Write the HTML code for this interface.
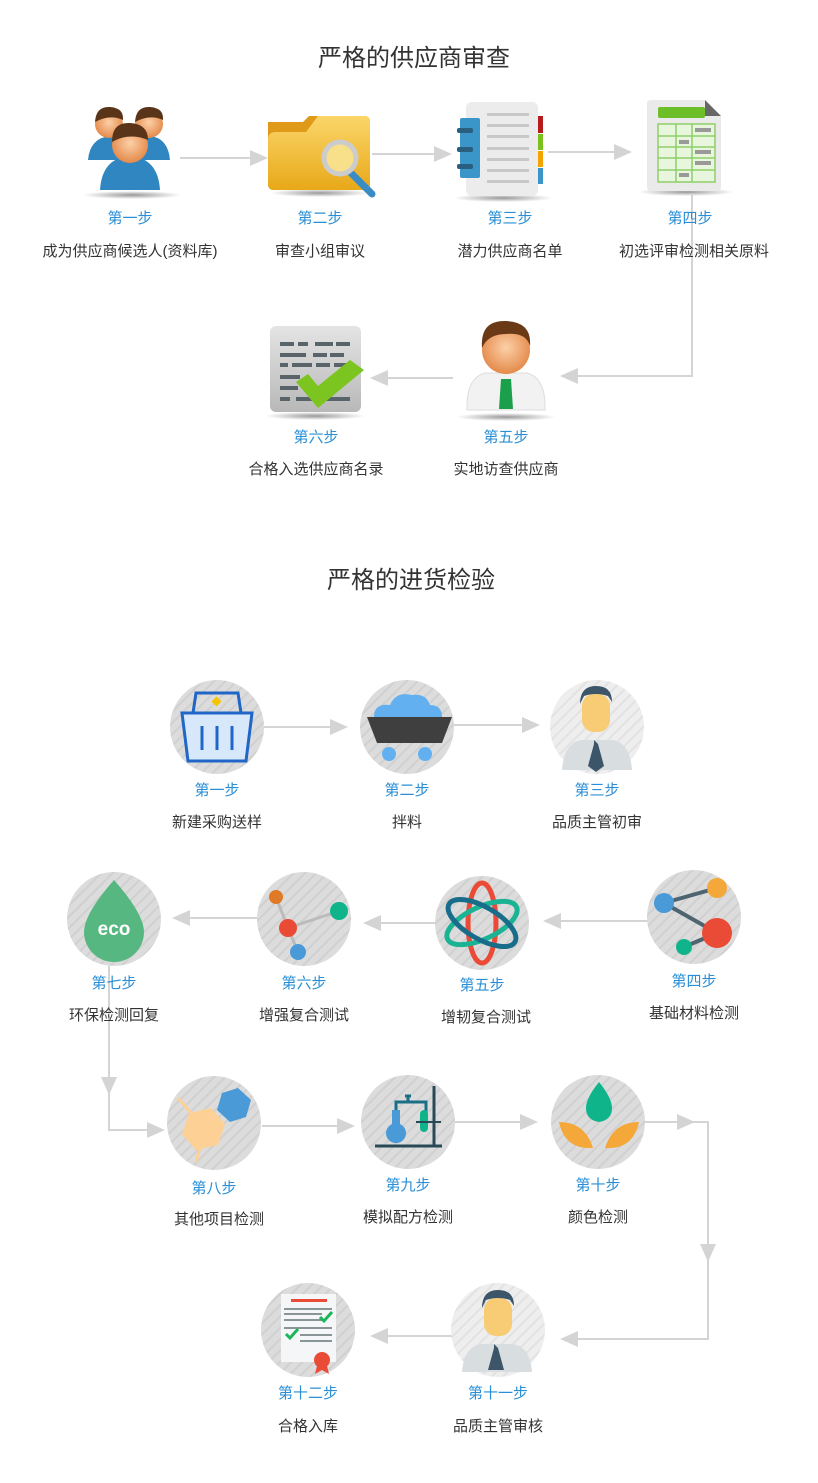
<!DOCTYPE html>
<html><head><meta charset="utf-8"><style>
html,body{margin:0;padding:0;background:#fff;}
svg{display:block;}
text{font-family:"Liberation Sans","Noto Sans CJK SC",sans-serif;text-anchor:middle;}
.t{font-size:24px;fill:#333;}
.s{font-size:15px;fill:#2a8fd6;}
.n{font-size:15px;fill:#333;}
.ln{stroke:#d4d4d4;stroke-width:2;fill:none;}
.ah{fill:#d4d4d4;}
</style></head><body>
<svg width="818" height="1483" viewBox="0 0 818 1483" xmlns="http://www.w3.org/2000/svg">
<defs>
<pattern id="st" width="8" height="8" patternUnits="userSpaceOnUse" patternTransform="rotate(45)">
<rect width="8" height="8" fill="#dcdcdc"/><rect width="2" height="8" fill="#d0d0d0"/></pattern>
<pattern id="st2" width="8" height="8" patternUnits="userSpaceOnUse" patternTransform="rotate(45)">
<rect width="8" height="8" fill="#eeeeee"/><rect width="2" height="8" fill="#e2e2e2"/></pattern>
<radialGradient id="face" cx="50%" cy="45%" r="55%"><stop offset="0" stop-color="#fcd0a8"/><stop offset="1" stop-color="#e48a4a"/></radialGradient>
<linearGradient id="fold" x1="0" y1="0" x2="0" y2="1"><stop offset="0" stop-color="#fbd66a"/><stop offset="1" stop-color="#e8a818"/></linearGradient>
<linearGradient id="doc" x1="0" y1="0" x2="0" y2="1"><stop offset="0" stop-color="#e4e4e4"/><stop offset="1" stop-color="#b8b8b8"/></linearGradient>
<radialGradient id="sh"><stop offset="0" stop-color="#999"/><stop offset="1" stop-color="#999" stop-opacity="0"/></radialGradient>
</defs>

<text class="t" x="414" y="66">严格的供应商审查</text>

<path class="ln" d="M180 158 H256"/><polygon class="ah" points="268,158 250,150 250,166"/>
<path class="ln" d="M372 154 H440"/><polygon class="ah" points="452,154 434,146 434,162"/>
<path class="ln" d="M548 152 H620"/><polygon class="ah" points="632,152 614,144 614,160"/>
<path class="ln" d="M692 195 V376 H572"/><polygon class="ah" points="560,376 578,368 578,384"/>
<path class="ln" d="M453 378 H382"/><polygon class="ah" points="370,378 388,370 388,386"/>

<ellipse cx="132" cy="195" rx="50" ry="4" fill="url(#sh)"/>
<g>
<path d="M88 160 Q90 138 110 136 Q128 138 130 160 Z" fill="#2f86c0"/>
<circle cx="109" cy="124" r="14" fill="url(#face)"/><path d="M95 122 Q96 106 110 107 Q124 108 123 120 Q110 114 95 122Z" fill="#5a3418"/>
<path d="M130 160 Q132 138 150 136 Q168 138 170 160 Z" fill="#2f86c0"/>
<circle cx="149" cy="124" r="14" fill="url(#face)"/><path d="M135 122 Q136 106 150 107 Q164 108 163 120 Q150 114 135 122Z" fill="#5a3418"/>
<path d="M100 190 Q102 158 130 156 Q158 158 160 190 Z" fill="#2f86c0"/>
<circle cx="130" cy="145" r="18" fill="url(#face)"/><path d="M112 142 Q112 122 130 123 Q148 124 148 140 Q130 132 112 142Z" fill="#5a3418"/>
</g>
<ellipse cx="320" cy="193" rx="50" ry="4" fill="url(#sh)"/>
<path d="M268 122 h35 l6 -6 h55 q6 0 6 6 v62 q0 6 -6 6 h-90 q-6 0 -6 -6z" fill="#e09a1a"/>
<path d="M268 140 q0 -8 8 -8 h30 l12 -16 h46 q6 0 6 6 v62 q0 6 -6 6 h-90 q-6 0 -6 -6z" fill="url(#fold)"/>
<line x1="350" y1="172" x2="372" y2="194" stroke="#3a8cc4" stroke-width="7" stroke-linecap="round"/>
<circle cx="340" cy="158" r="16" fill="#f8e08a" stroke="#ccc" stroke-width="5"/>
<ellipse cx="503" cy="198" rx="50" ry="4" fill="url(#sh)"/>
<rect x="466" y="102" width="72" height="94" rx="6" fill="#ececec"/>
<rect x="460" y="118" width="20" height="60" rx="2" fill="#3a95c9"/>
<rect x="457" y="128" width="16" height="5" rx="2" fill="#2a5f80"/><rect x="457" y="147" width="16" height="5" rx="2" fill="#2a5f80"/><rect x="457" y="164" width="16" height="5" rx="2" fill="#2a5f80"/>
<rect x="538" y="116" width="5" height="17" fill="#b51c1c"/><rect x="538" y="134" width="5" height="16" fill="#7ac01e"/><rect x="538" y="151" width="5" height="16" fill="#f5a300"/><rect x="538" y="168" width="5" height="16" fill="#3a95c9"/>
<g fill="#c8c8c8"><rect x="487" y="113" width="42" height="3"/><rect x="487" y="124" width="42" height="3"/><rect x="487" y="135" width="42" height="3"/><rect x="487" y="147" width="42" height="3"/><rect x="487" y="158" width="42" height="3"/><rect x="487" y="169" width="42" height="3"/><rect x="487" y="180" width="42" height="3"/></g>
<ellipse cx="686" cy="192" rx="48" ry="4" fill="url(#sh)"/>
<path d="M651 100 h54 l16 16 v71 q0 4 -4 4 h-66 q-4 0 -4 -4 v-83 q0 -4 4 -4z" fill="#eaeaea"/>
<path d="M705 100 l16 16 h-16z" fill="#666"/>
<rect x="658" y="107" width="47" height="11" rx="2" fill="#6cbf28"/>
<rect x="658" y="124" width="57" height="58" fill="#e8f6de" stroke="#8fcf68" stroke-width="1.5"/>
<g stroke="#8fcf68" stroke-width="1.5"><line x1="676" y1="124" x2="676" y2="182"/><line x1="692" y1="124" x2="692" y2="182"/><line x1="658" y1="136" x2="715" y2="136"/><line x1="658" y1="147" x2="715" y2="147"/><line x1="658" y1="158" x2="715" y2="158"/><line x1="658" y1="170" x2="715" y2="170"/></g>
<g fill="#999"><rect x="695" y="128" width="16" height="4"/><rect x="679" y="140" width="10" height="4"/><rect x="695" y="150" width="16" height="4"/><rect x="695" y="161" width="16" height="4"/><rect x="679" y="173" width="10" height="4"/></g>

<text class="s" x="130" y="223">第一步</text><text class="n" x="130" y="256">成为供应商候选人(资料库)</text>
<text class="s" x="320" y="223">第二步</text><text class="n" x="320" y="256">审查小组审议</text>
<text class="s" x="510" y="223">第三步</text><text class="n" x="510" y="256">潜力供应商名单</text>
<text class="s" x="690" y="223">第四步</text><text class="n" x="694" y="256">初选评审检测相关原料</text>

<ellipse cx="315" cy="416" rx="50" ry="4" fill="url(#sh)"/>
<rect x="270" y="326" width="91" height="86" rx="6" fill="url(#doc)"/>
<g fill="#58636a"><rect x="280" y="342" width="14" height="4"/><rect x="298" y="342" width="10" height="4"/><rect x="315" y="342" width="18" height="4"/><rect x="336" y="342" width="14" height="4"/><rect x="280" y="353" width="26" height="4"/><rect x="313" y="353" width="14" height="4"/><rect x="330" y="353" width="14" height="4"/><rect x="280" y="363" width="8" height="4"/><rect x="292" y="363" width="20" height="4"/><rect x="316" y="363" width="14" height="4"/><rect x="334" y="363" width="16" height="4"/><rect x="280" y="375" width="20" height="4"/><rect x="280" y="386" width="18" height="4"/><rect x="280" y="397" width="10" height="4"/><rect x="296" y="397" width="54" height="4"/></g>
<path d="M296 382 l12 -8 l10 12 l32 -26 l14 10 l-46 38z" fill="#7cc520"/>
<ellipse cx="506" cy="417" rx="50" ry="4" fill="url(#sh)"/>
<path d="M467 410 Q466 378 485 373 L527 373 Q546 378 545 410 Z" fill="#f2f2f2" stroke="#ddd"/>
<path d="M501 379 h10 l2 30 h-14z" fill="#1aa04a"/>
<circle cx="506" cy="350" r="24" fill="url(#face)"/>
<path d="M482 348 Q480 320 506 321 Q532 322 530 346 Q526 332 506 334 Q488 334 482 348Z" fill="#6a3a16"/>

<text class="s" x="316" y="442">第六步</text><text class="n" x="316" y="474">合格入选供应商名录</text>
<text class="s" x="506" y="442">第五步</text><text class="n" x="506" y="474">实地访查供应商</text>

<text class="t" x="411" y="588">严格的进货检验</text>

<path class="ln" d="M264 727 H336"/><polygon class="ah" points="348,727 330,719 330,735"/>
<path class="ln" d="M454 725 H528"/><polygon class="ah" points="540,725 522,717 522,733"/>
<path class="ln" d="M648 921 H556"/><polygon class="ah" points="543,921 561,913 561,929"/>
<path class="ln" d="M435 923 H376"/><polygon class="ah" points="363,923 381,915 381,931"/>
<path class="ln" d="M257 918 H185"/><polygon class="ah" points="172,918 190,910 190,926"/>
<path class="ln" d="M109 966 V1130 H152"/><polygon class="ah" points="109,1095 101,1077 117,1077"/><polygon class="ah" points="165,1130 147,1122 147,1138"/>
<path class="ln" d="M262 1126 H343"/><polygon class="ah" points="355,1126 337,1118 337,1134"/>
<path class="ln" d="M455 1122 H526"/><polygon class="ah" points="538,1122 520,1114 520,1130"/>
<path class="ln" d="M645 1122 H708 V1339 H572"/><polygon class="ah" points="695,1122 677,1114 677,1130"/><polygon class="ah" points="708,1262 700,1244 716,1244"/><polygon class="ah" points="560,1339 578,1331 578,1347"/>
<path class="ln" d="M452 1336 H382"/><polygon class="ah" points="370,1336 388,1328 388,1344"/>

<g>
<circle cx="217" cy="727" r="47" fill="url(#st)"/>
<circle cx="407" cy="727" r="47" fill="url(#st)"/>
<circle cx="597" cy="727" r="47" fill="url(#st2)"/>
<circle cx="114" cy="919" r="47" fill="url(#st)"/>
<circle cx="304" cy="919" r="47" fill="url(#st)"/>
<circle cx="482" cy="923" r="47" fill="url(#st)"/>
<circle cx="694" cy="917" r="47" fill="url(#st)"/>
<circle cx="214" cy="1123" r="47" fill="url(#st)"/>
<circle cx="408" cy="1122" r="47" fill="url(#st)"/>
<circle cx="598" cy="1122" r="47" fill="url(#st)"/>
<circle cx="308" cy="1330" r="47" fill="url(#st)"/>
<circle cx="498" cy="1330" r="47" fill="url(#st2)"/>
</g>

<path d="M193 713 l3 -20 h42 l3 20" fill="none" stroke="#1f66c8" stroke-width="3"/>
<rect x="213" y="698" width="7" height="7" transform="rotate(45 216.5 701.5)" fill="#f5c400"/>
<path d="M182 713 h70 l-6 48 h-58z" fill="#d8e8fb" stroke="#1f66c8" stroke-width="3"/>
<g stroke="#1f66c8" stroke-width="3"><line x1="202" y1="726" x2="202" y2="750"/><line x1="217" y1="726" x2="217" y2="750"/><line x1="232" y1="726" x2="232" y2="750"/></g>
<path d="M374 717 q0 -14 16 -12 q6 -14 22 -10 q14 -2 18 10 q12 0 12 12z" fill="#62b0f0"/>
<path d="M367 717 h85 l-10 26 h-65z" fill="#3f3f3f"/>
<circle cx="389" cy="754" r="7" fill="#62b0f0"/><circle cx="425" cy="754" r="7" fill="#62b0f0"/>
<path d="M562 770 q2 -28 20 -30 h30 q18 2 20 30z" fill="#d8dde0"/>
<path d="M594 740 l4 4 l6 22 l-8 6 l-8 -6 l6 -22z" fill="#3c5568"/>
<rect x="582" y="694" width="28" height="38" rx="12" fill="#f7cc74"/>
<path d="M580 704 q0 -18 16 -18 q16 0 16 16 l-4 -6 q-12 -4 -24 0z" fill="#3c5568"/>
<path d="M114 880 q-30 34 -30 52 a30 30 0 0 0 60 0 q0 -18 -30 -52z" fill="#56b880"/>
<text x="114" y="935" style="font-size:19px;font-weight:bold;fill:#fff">eco</text>
<g stroke="#bbb" stroke-width="3"><line x1="276" y1="897" x2="288" y2="928"/><line x1="288" y1="928" x2="339" y2="911"/><line x1="288" y1="928" x2="298" y2="952"/></g>
<circle cx="276" cy="897" r="7" fill="#e07a26"/><circle cx="339" cy="911" r="9" fill="#10b48a"/><circle cx="288" cy="928" r="9" fill="#ea4b37"/><circle cx="298" cy="952" r="8" fill="#4a9ad8"/>
<ellipse cx="482" cy="923" rx="14" ry="40" fill="none" stroke="#ea4b37" stroke-width="5"/>
<ellipse cx="482" cy="923" rx="38" ry="16" fill="none" stroke="#1ab394" stroke-width="5" transform="rotate(-25 482 923)"/>
<ellipse cx="482" cy="923" rx="38" ry="16" fill="none" stroke="#186d8a" stroke-width="5" transform="rotate(30 482 923)"/>
<g stroke="#4e6470" stroke-width="4"><line x1="664" y1="903" x2="717" y2="888"/><line x1="664" y1="903" x2="717" y2="933"/><line x1="717" y1="933" x2="684" y2="947"/></g>
<circle cx="717" cy="888" r="10" fill="#f5a83a"/><circle cx="664" cy="903" r="10" fill="#4a9ad8"/><circle cx="717" cy="933" r="15" fill="#ea4b37"/><circle cx="684" cy="947" r="8" fill="#10b48a"/>
<!-- hexagons -->
<line x1="178" y1="1098" x2="192" y2="1114" stroke="#fdd196" stroke-width="3"/>
<line x1="200" y1="1148" x2="196" y2="1162" stroke="#fdd196" stroke-width="3"/>
<polygon points="189,1113 211,1108 225,1124 218,1145 196,1150 182,1134" fill="#fdd196"/>
<polygon points="222,1093 238,1088 251,1100 246,1117 230,1122 217,1110" fill="#4a9ad8"/>
<path d="M396 1112 v-10 h30 v14" fill="none" stroke="#1a6e86" stroke-width="3"/><line x1="405" y1="1096" x2="411" y2="1096" stroke="#1a6e86" stroke-width="3"/><line x1="408" y1="1096" x2="408" y2="1102" stroke="#1a6e86" stroke-width="3"/>
<path d="M392 1110 h8 v14 a10 10 0 1 1 -8 0z" fill="#4a9ad8"/>
<rect x="420" y="1110" width="8" height="22" rx="4" fill="#10b48a"/>
<line x1="434" y1="1086" x2="434" y2="1146" stroke="#284a58" stroke-width="3"/><line x1="416" y1="1122" x2="441" y2="1122" stroke="#284a58" stroke-width="2"/><line x1="375" y1="1146" x2="442" y2="1146" stroke="#284a58" stroke-width="3"/>
<path d="M599 1082 q-13 16 -13 26 q0 12 13 14 q13 -2 13 -14 q0 -10 -13 -26z" fill="#10b48a"/>
<path d="M559 1122 q26 0 34 26 q-28 2 -34 -26z" fill="#f5a83a"/>
<path d="M639 1122 q-26 0 -34 26 q28 2 34 -26z" fill="#f5a83a"/>
<rect x="281" y="1294" width="55" height="68" fill="#f4f6f7"/>
<rect x="291" y="1299" width="36" height="3" fill="#ea4b37"/>
<g fill="#8a9598"><rect x="284" y="1308" width="48" height="2"/><rect x="284" y="1313" width="38" height="2"/><rect x="284" y="1319" width="38" height="2"/><rect x="284" y="1327" width="48" height="2"/><rect x="300" y="1334" width="32" height="2"/><rect x="300" y="1340" width="32" height="2"/></g>
<path d="M320 1317 l4 4 l8 -9" fill="none" stroke="#1bb55a" stroke-width="3"/><path d="M286 1334 l4 4 l8 -9" fill="none" stroke="#1bb55a" stroke-width="3"/>
<path d="M318 1362 l-3 12 l7 -4 l7 4 l-3 -12z" fill="#ea4b37"/><circle cx="322" cy="1360" r="8" fill="#ea4b37"/>
<path d="M462 1372 q2 -26 20 -28 h30 q18 2 20 28z" fill="#d8dde0"/>
<path d="M494 1344 l4 4 l6 22 h-16 l6 -22z" fill="#3c5568"/>
<rect x="484" y="1298" width="28" height="38" rx="12" fill="#f7cc74"/>
<path d="M482 1308 q0 -18 16 -18 q16 0 16 16 l-4 -6 q-12 -4 -24 0z" fill="#3c5568"/>

<text class="s" x="217" y="795">第一步</text><text class="n" x="217" y="827">新建采购送样</text>
<text class="s" x="407" y="795">第二步</text><text class="n" x="407" y="827">拌料</text>
<text class="s" x="597" y="795">第三步</text><text class="n" x="597" y="827">品质主管初审</text>
<text class="s" x="114" y="988">第七步</text><text class="n" x="114" y="1020">环保检测回复</text>
<text class="s" x="304" y="988">第六步</text><text class="n" x="304" y="1020">增强复合测试</text>
<text class="s" x="482" y="990">第五步</text><text class="n" x="486" y="1022">增韧复合测试</text>
<text class="s" x="694" y="986">第四步</text><text class="n" x="694" y="1018">基础材料检测</text>
<text class="s" x="214" y="1193">第八步</text><text class="n" x="219" y="1224">其他项目检测</text>
<text class="s" x="408" y="1190">第九步</text><text class="n" x="408" y="1222">模拟配方检测</text>
<text class="s" x="598" y="1190">第十步</text><text class="n" x="598" y="1222">颜色检测</text>
<text class="s" x="308" y="1398">第十二步</text><text class="n" x="308" y="1431">合格入库</text>
<text class="s" x="498" y="1398">第十一步</text><text class="n" x="498" y="1431">品质主管审核</text>
</svg>
</body></html>
